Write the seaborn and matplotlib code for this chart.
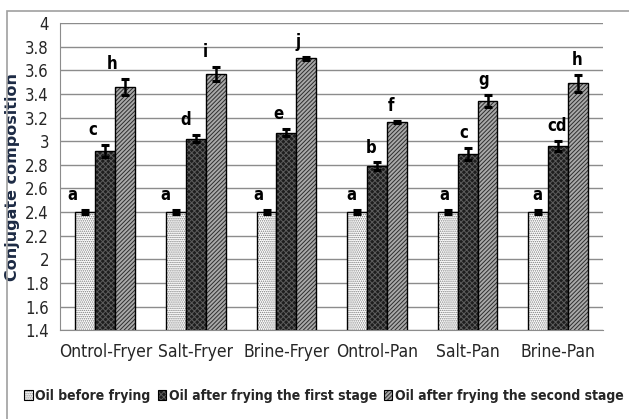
import matplotlib
matplotlib.use("Agg")
import matplotlib.pyplot as plt
from matplotlib import font_manager
from matplotlib.colors import to_rgba
from matplotlib.patches import Rectangle, Patch
import numpy as np
import pandas as pd
import seaborn as sns

# Treatments and oil stages
treatments = ["Ontrol-Fryer", "Salt-Fryer", "Brine-Fryer", "Ontrol-Pan", "Salt-Pan", "Brine-Pan"]
stages = ["Oil before frying", "Oil after frying the first stage", "Oil after frying the second stage"]

before = [2.40, 2.40, 2.40, 2.40, 2.40, 2.40]
first_stage = [2.92, 3.02, 3.07, 2.79, 2.89, 2.96]
second_stage = [3.46, 3.57, 3.70, 3.16, 3.34, 3.49]

before_err = [0.02, 0.02, 0.02, 0.02, 0.02, 0.02]
first_err = [0.05, 0.03, 0.03, 0.03, 0.05, 0.04]
second_err = [0.07, 0.06, 0.01, 0.01, 0.05, 0.07]

before_letters = ["a", "a", "a", "a", "a", "a"]
first_letters = ["c", "d", "e", "b", "c", "cd"]
second_letters = ["h", "i", "j", "f", "g", "h"]

y_ticks = [1.4, 1.6, 1.8, 2.0, 2.2, 2.4, 2.6, 2.8, 3.0, 3.2, 3.4, 3.6, 3.8, 4.0]
y_tick_labels = ["1.4", "1.6", "1.8", "2", "2.2", "2.4", "2.6", "2.8", "3", "3.2", "3.4", "3.6", "3.8", "4"]

df = pd.DataFrame({
    "Treatment": treatments * 3,
    "Stage": [stages[0]] * 6 + [stages[1]] * 6 + [stages[2]] * 6,
    "Value": before + first_stage + second_stage,
})
errs = [before_err, first_err, second_err]
letters = [before_letters, first_letters, second_letters]

# prefer a condensed sans face for the labels when one is installed
condensed = [f for f in font_manager.fontManager.ttflist
             if str(f.stretch) in ("condensed", "semi-condensed", "extra-condensed")
             or "Condensed" in f.fname or "Narrow" in f.fname]
pref_order = ["Carlito", "Liberation Sans Narrow", "DejaVu Sans", "Roboto", "Open Sans", "Noto Sans"]
narrow = None
names = {f.name for f in condensed}
for cand in pref_order:
    if cand in names:
        narrow = cand
        break
if narrow is None and names:
    narrow = sorted(names)[0]
if narrow is None:
    narrow = "Lato"
    stretch = "normal"
else:
    stretch = "condensed"
families = [narrow, "DejaVu Sans"]

sns.set_style("white")
plt.rcParams["font.family"] = families
plt.rcParams["font.stretch"] = stretch
plt.rcParams["hatch.linewidth"] = 0.7

fig = plt.figure(figsize=(6.29, 4.19), dpi=100)
ax = fig.add_axes([0.0954, 0.212, 0.864, 0.733])

sns.barplot(data=df, x="Treatment", y="Value", hue="Stage", order=treatments,
            hue_order=stages, errorbar=None, width=0.66, gap=0, legend=False,
            ax=ax, zorder=3)

faces = ["#ffffff", "#1e1e1e", "#a9a9a9"]
hatches = ["........", "xxxxxx", "////////"]
hatch_cols = ["#7a7a7a", "#5c5c5c", "#2e2e2e"]

letter_size = 12 if stretch == "condensed" else 10.5
bar_groups = list(ax.containers)
for k, cont in enumerate(bar_groups):
    for i, bar in enumerate(cont.patches):
        bar.set_facecolor(faces[k])
        bar.set_edgecolor("black")
        bar.set_linewidth(1.0)
        bar.set_hatch(hatches[k])
        bar._hatch_color = to_rgba(hatch_cols[k])
        cx = bar.get_x() + bar.get_width() / 2
        top = bar.get_height() + bar.get_y()
        ax.errorbar(cx, top, yerr=errs[k][i], fmt="none", ecolor="black",
                    elinewidth=1.8, capsize=3, capthick=2.2, zorder=5)
        shift = -0.14 + 0.025 * i
        ax.text(cx + shift, top + errs[k][i] + 0.05, letters[k][i],
                ha="center", va="bottom", fontsize=letter_size, fontweight="bold",
                color="black", zorder=6)

ax.set_ylim(1.4, 4.0)
ax.set_xlim(-0.5, 5.5)
ax.set_yticks(y_ticks)
ax.set_yticklabels(y_tick_labels)
ax.yaxis.grid(True, color="#8c8c8c", linewidth=1.0, zorder=0)
ax.set_axisbelow(True)
ax.tick_params(axis="y", labelsize=12 if stretch == "condensed" else 10.5, length=0, pad=8)
ax.tick_params(axis="x", labelsize=12.5 if stretch == "condensed" else 10.5, length=0, pad=9)
for side in ["top", "right"]:
    ax.spines[side].set_visible(False)
ax.spines["left"].set_color("#8c8c8c")
ax.spines["bottom"].set_color("#8c8c8c")
ax.set_xlabel("")
ax.set_ylabel("Conjugate composition", fontsize=11.5, fontweight="bold",
              color="#1c2a44", family=["DejaVu Sans"], fontstretch="normal")
ax.yaxis.set_label_coords(-0.073, 0.5)

handles = [Patch(facecolor=faces[k], edgecolor="black", hatch=hatches[k], linewidth=0.8)
           for k in range(3)]
for k, h in enumerate(handles):
    h._hatch_color = to_rgba(hatch_cols[k])

# shrink the legend text until the row fits inside the frame
size = 14.5
while True:
    leg = fig.legend(handles, stages, loc="center", bbox_to_anchor=(0.515, 0.055), ncol=3,
                     frameon=False, handlelength=0.6, handleheight=0.8, handletextpad=0.2,
                     columnspacing=0.5, borderpad=0.05, borderaxespad=0.0,
                     prop={"size": size, "weight": "bold", "family": families,
                           "stretch": stretch})
    fig.canvas.draw()
    bb = leg.get_window_extent()
    if bb.width <= 610 or size <= 8:
        break
    leg.remove()
    size -= 0.25

fig.patches.append(Rectangle((0.011, -0.1), 1.2, 1.074, transform=fig.transFigure,
                             fill=False, edgecolor="#a0a0a0", linewidth=1.2))

fig.savefig("out.png", dpi=100)
